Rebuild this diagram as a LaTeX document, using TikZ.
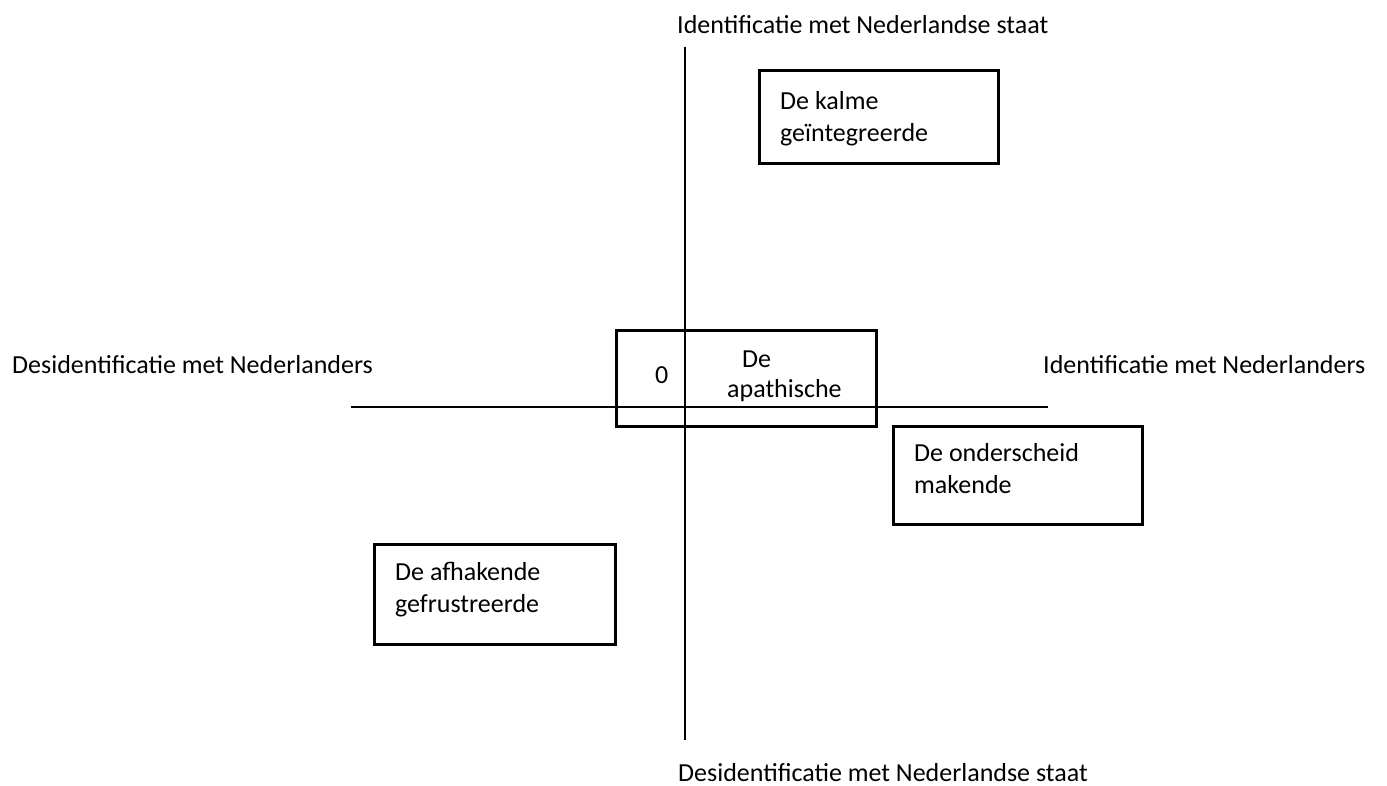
\documentclass[tikz,border=0pt]{standalone}
\usepackage{fontspec}
\setmainfont{Carlito}
\begin{document}
\begin{tikzpicture}[x=1pt,y=-1pt,
  lbl/.style={anchor=base west,inner sep=0pt,font=\fontsize{26}{32}\selectfont,align=left},
  boxnode/.style={draw,line width=3pt,inner sep=0pt,rectangle},
  axis/.style={line width=1.6pt}]
\useasboundingbox (0,0) rectangle (1387,785);
% axes
\coordinate (vtop) at (685,47);
\coordinate (vbot) at (685,740);
\coordinate (hleft) at (351,407);
\coordinate (hright) at (1048,407);
\draw[axis] (vtop) -- (vbot);
\draw[axis] (hleft) -- (hright);
% boxes
\node[boxnode,minimum width=239pt,minimum height=93pt] (kalme) at (879,117) {};
\node[boxnode,minimum width=260pt,minimum height=96pt] (apath) at (746.5,378.5) {};
\node[boxnode,minimum width=241pt,minimum height=100pt] (afhak) at (495,594.5) {};
\node[boxnode,minimum width=248.5pt,minimum height=98pt] (onder) at (1017.75,475.5) {};
% box texts (base anchor = baseline of the last line)
\node[lbl] (tkalme) at (780,141) {De kalme\\geïntegreerde};
\node[lbl] (tafhak) at (395,612) {De afhakende\\gefrustreerde};
\node[lbl] (tonder) at (914,493) {De onderscheid\\makende};
\node[lbl] (tzero) at (655,383) {0};
\node[lbl] (tde) at (742,367) {De};
\node[lbl] (tapath) at (727,397) {apathische};
% axis labels
\node[lbl] (ltop) at (677,33) {Identificatie met Nederlandse staat};
\node[lbl] (lbot) at (678,781) {Desidentificatie met Nederlandse staat};
\node[lbl] (lleft) at (12,373) {Desidentificatie met Nederlanders};
\node[lbl] (lright) at (1043,373) {Identificatie met Nederlanders};
\end{tikzpicture}
\end{document}
